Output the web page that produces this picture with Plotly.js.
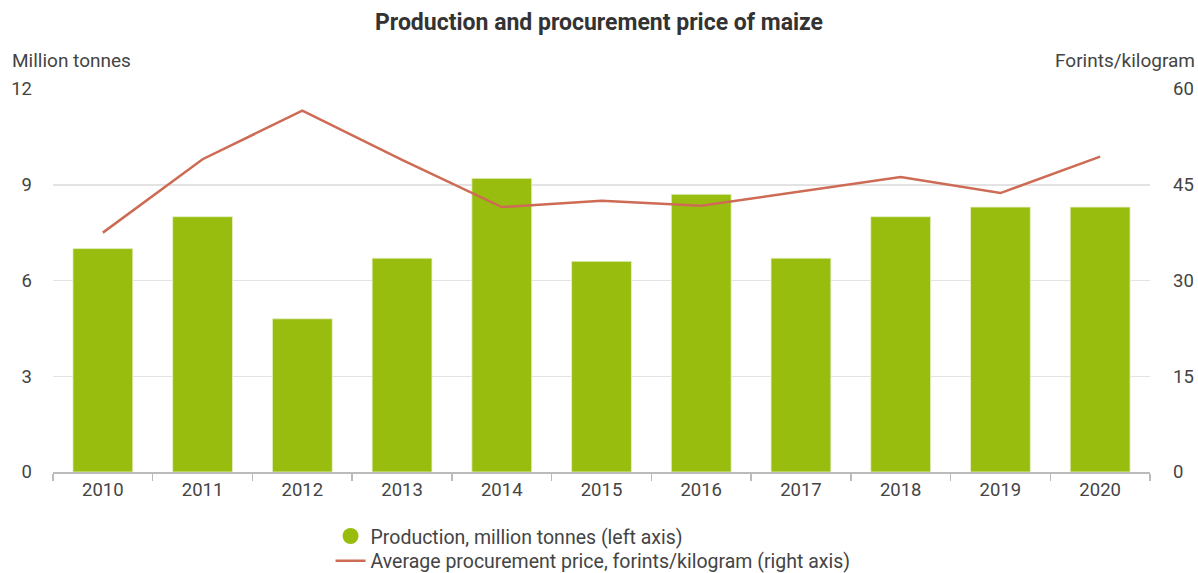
<!DOCTYPE html>
<html>
<head>
<meta charset="utf-8">
<script src="https://cdn.plot.ly/plotly-3.0.1.min.js"></script>
<style>html,body{margin:0;padding:0;background:#fff;}#chart{width:1198px;height:573px;}</style>
</head>
<body>
<div id="chart"></div>
<script>
const years = ["2010","2011","2012","2013","2014","2015","2016","2017","2018","2019","2020"];
const production = [7.0, 8.0, 4.8, 6.7, 9.2, 6.6, 8.7, 6.7, 8.0, 8.3, 8.3];
const price = [37.5, 49.0, 56.6, 48.9, 41.5, 42.5, 41.7, 43.9, 46.2, 43.7, 49.4];
const productionName = "Production, million tonnes (left axis)";
const priceName = "Average procurement price, forints/kilogram (right axis)";

const green = "#99bd0f";
const red = "#cd6b55";
const font = "Roboto, 'Open Sans', sans-serif";

const traces = [
  {
    type: "bar", x: years, y: production, name: productionName,
    marker: {color: green, line: {color: "rgba(230,240,200,0.8)", width: 1}},
    showlegend: false, yaxis: "y", hoverinfo: "x+y"
  },
  {
    type: "scatter", mode: "markers", x: [null], y: [null], name: productionName,
    marker: {color: green, symbol: "circle", size: 22}, showlegend: true, legend: "legend"
  },
  {
    type: "scatter", mode: "lines", x: years, y: price, name: priceName,
    line: {color: red, width: 2.5}, yaxis: "y2", legend: "legend2"
  }
];

const legendBase = {
  orientation: "v", x: 0.253, xanchor: "left", yanchor: "middle",
  font: {size: 19.5, color: "#444"}, itemwidth: 30, bgcolor: "rgba(0,0,0,0)"
};

const layout = {
  width: 1198, height: 573,
  margin: {l: 53, r: 48, t: 89, b: 101, autoexpand: false},
  paper_bgcolor: "#fff", plot_bgcolor: "#fff",
  font: {family: font, size: 18, color: "#444"},
  title: {text: "<b>Production and procurement price of maize</b>", x: 0.5, xanchor: "center", y: 0.962, yanchor: "middle", font: {family: font, size: 23, color: "#333"}},
  bargap: 0.4,
  xaxis: {
    type: "category", showgrid: false, showline: true, linecolor: "#bbb", linewidth: 1.5,
    ticks: "outside", tickson: "boundaries", ticklen: 7, tickcolor: "#bbb", tickwidth: 1.5,
    tickfont: {size: 18.5, color: "#444"}, fixedrange: true
  },
  yaxis: {
    range: [0, 12], tickvals: [0, 3, 6, 9, 12], showgrid: true, gridcolor: "#e3e3e3", gridwidth: 1.5,
    zeroline: false, showline: false, ticks: "", ticklabelstandoff: 20,
    tickfont: {size: 18.5, color: "#444"}
  },
  yaxis2: {
    overlaying: "y", side: "right", range: [0, 60], tickvals: [0, 15, 30, 45, 60],
    showgrid: false, zeroline: false, showline: false, ticks: "", ticklabelstandoff: 22,
    tickfont: {size: 18.5, color: "#444"}
  },
  legend: Object.assign({}, legendBase, {y: -0.168}),
  legend2: Object.assign({}, legendBase, {y: -0.2325}),
  annotations: [
    {text: "Million tonnes", xref: "paper", yref: "paper", x: -0.039, y: 1.0, xanchor: "left", yanchor: "bottom", yshift: 15, showarrow: false, font: {size: 19, color: "#444"}},
    {text: "Forints/kilogram", xref: "paper", yref: "paper", x: 1.043, y: 1.0, xanchor: "right", yanchor: "bottom", yshift: 15, showarrow: false, font: {size: 19, color: "#444"}}
  ]
};

Plotly.newPlot("chart", traces, layout, {displayModeBar: false, staticPlot: true});
</script>
</body>
</html>
